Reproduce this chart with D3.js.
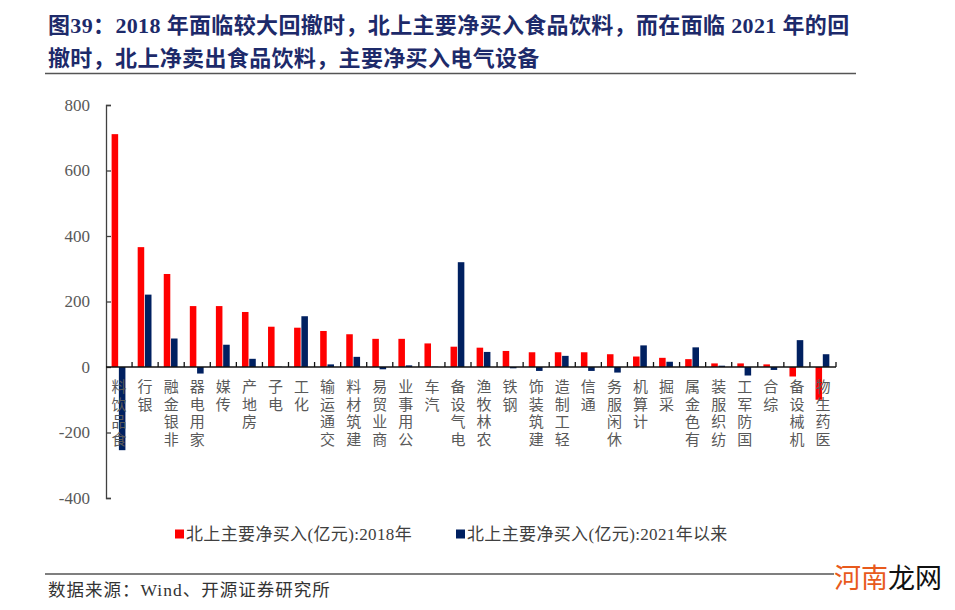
<!DOCTYPE html>
<html>
<head>
<meta charset="utf-8">
<script src="https://cdn.jsdelivr.net/npm/d3@7"></script>
<style>
  body { margin: 0; background: #fff; }
  svg { display: block; }
  .cat-label { writing-mode: vertical-rl; text-orientation: upright; }
</style>
</head>
<body>
<div id="chart"></div>
<script>
const categories = [
  "食品饮料", "银行", "非银金融", "家用电器", "传媒", "房地产", "电子", "化工",
  "交通运输", "建筑材料", "商业贸易", "公用事业", "汽车", "电气设备", "农林牧渔", "钢铁",
  "建筑装饰", "轻工制造", "通信", "休闲服务", "计算机", "采掘", "有色金属", "纺织服装",
  "国防军工", "综合", "机械设备", "医药生物"
];
const buy2018 = [
  711, 366, 284, 186, 186, 168, 123, 120,
  110, 100, 86, 86, 72, 62, 59, 49,
  45, 45, 45, 39, 32, 28, 24, 11,
  11, 8, -29, -100
];
const buy2021 = [
  -254, 221, 87, -20, 68, 25, 1, 155,
  8, 31, -7, 5, 1, 320, 46, -4,
  -12, 34, -12, -17, 66, 16, 60, 4,
  -26, -9, 82, 39
];
const yTicks = [-400, -200, 0, 200, 400, 600, 800];
const seriesNames = ["北上主要净买入(亿元):2018年", "北上主要净买入(亿元):2021年以来"];
const seriesColors = ["#ff0000", "#002060"];
const titleLines = [
  "图39：2018 年面临较大回撤时，北上主要净买入食品饮料，而在面临 2021 年的回",
  "撤时，北上净卖出食品饮料，主要净买入电气设备"
];
const sourceText = "数据来源：Wind、开源证券研究所";

class NorthboundChart {
  constructor(el) {
    this.el = el;
    this.setup();
    this.scaffold();
    this.render();
  }

  setup() {
    this.width = 955;
    this.height = 610;
    this.serif = "'Liberation Serif', 'Times New Roman', 'Noto Sans CJK SC', serif";
    this.cjk = "'Noto Sans CJK SC', sans-serif";

    this.x = d3.scaleBand().domain(categories).range([106, 836]).padding(0);
    this.sub = d3
      .scaleBand()
      .domain([0, 1])
      .range([this.x.bandwidth() * 0.215, this.x.bandwidth() * 0.745])
      .paddingInner(0.1);
    this.y = d3.scaleLinear().domain([-400, 800]).range([498, 105]);

    this.rows = categories.map((c, i) => ({
      category: c,
      values: [buy2018[i], buy2021[i]],
    }));
  }

  scaffold() {
    this.svg = d3
      .select(this.el)
      .append("svg")
      .attr("width", this.width)
      .attr("height", this.height);
  }

  render() {
    const svg = this.svg;

    // title
    svg
      .append("g")
      .selectAll("text")
      .data(titleLines)
      .join("text")
      .attr("x", 48)
      .attr("y", (d, i) => 33 + i * 33)
      .attr("font-family", this.serif)
      .attr("font-weight", "bold")
      .attr("font-size", 22)
      .attr("letter-spacing", 0.35)
      .attr("fill", "#1d2a6a")
      .text((d) => d);

    svg
      .append("line")
      .attr("x1", 45)
      .attr("x2", 856)
      .attr("y1", 73.5)
      .attr("y2", 73.5)
      .attr("stroke", "#555")
      .attr("stroke-width", 1.5);

    // bars
    svg
      .append("g")
      .selectAll("g")
      .data(this.rows)
      .join("g")
      .attr("transform", (d) => `translate(${this.x(d.category)},0)`)
      .selectAll("rect")
      .data((d) => d.values)
      .join("rect")
      .attr("x", (d, i) => this.sub(i))
      .attr("width", this.sub.bandwidth())
      .attr("y", (d) => this.y(Math.max(0, d)))
      .attr("height", (d) => Math.abs(this.y(d) - this.y(0)))
      .attr("fill", (d, i) => seriesColors[i]);

    // y axis
    const yAxis = svg
      .append("g")
      .attr("transform", "translate(106,0)")
      .call(d3.axisRight(this.y).tickValues(yTicks).tickSize(5).tickFormat(""));
    yAxis.select(".domain").attr("stroke", "#404040").attr("stroke-width", 1.3);
    yAxis.selectAll(".tick line").attr("stroke", "#404040").attr("stroke-width", 1.3);

    svg
      .append("g")
      .selectAll("text")
      .data(yTicks)
      .join("text")
      .attr("x", 90)
      .attr("y", (d) => this.y(d))
      .attr("dy", "0.35em")
      .attr("text-anchor", "end")
      .attr("font-family", this.serif)
      .attr("font-size", 17)
      .attr("fill", "#595959")
      .text((d) => d);

    // zero line with upward ticks at category boundaries
    const y0 = this.y(0);
    svg
      .append("line")
      .attr("x1", 106)
      .attr("x2", 836)
      .attr("y1", y0)
      .attr("y2", y0)
      .attr("stroke", "#111")
      .attr("stroke-width", 1.5);
    const bounds = categories.slice(1).map((c) => this.x(c)).concat([836]);
    svg
      .append("g")
      .selectAll("line")
      .data(bounds)
      .join("line")
      .attr("x1", (d) => d)
      .attr("x2", (d) => d)
      .attr("y1", y0)
      .attr("y2", y0 - 5)
      .attr("stroke", "#111")
      .attr("stroke-width", 1.3);

    // category labels: upright characters stacked, read bottom to top
    svg
      .append("g")
      .selectAll("text")
      .data(categories)
      .join("text")
      .attr("class", "cat-label")
      .attr("x", (d) => this.x(d) + this.x.bandwidth() / 2)
      .attr("y", 379)
      .attr("font-family", this.cjk)
      .attr("font-size", 15)
      .attr("letter-spacing", 2.6)
      .attr("fill", "#595959")
      .text((d) => Array.from(d).reverse().join(""));

    // legend
    const legendX = [175, 456];
    const legend = svg
      .append("g")
      .selectAll("g")
      .data(seriesNames)
      .join("g")
      .attr("transform", (d, i) => `translate(${legendX[i]},534)`);
    legend
      .append("rect")
      .attr("x", 0)
      .attr("y", -4.5)
      .attr("width", 9)
      .attr("height", 9)
      .attr("fill", (d, i) => seriesColors[i]);
    legend
      .append("text")
      .attr("x", 11)
      .attr("dy", "0.35em")
      .attr("font-family", this.serif)
      .attr("font-size", 17)
      .attr("letter-spacing", 0.35)
      .attr("fill", "#404040")
      .text((d) => d);

    // footer
    svg
      .append("line")
      .attr("x1", 45)
      .attr("x2", 834)
      .attr("y1", 574)
      .attr("y2", 574)
      .attr("stroke", "#555")
      .attr("stroke-width", 1.5);
    svg
      .append("text")
      .attr("x", 48)
      .attr("y", 590)
      .attr("dy", "0.35em")
      .attr("font-family", this.serif)
      .attr("font-size", 17.5)
      .attr("letter-spacing", 1)
      .attr("fill", "#333")
      .text(sourceText);

    const mark = svg
      .append("text")
      .attr("x", 834)
      .attr("y", 579)
      .attr("dy", "0.35em")
      .attr("font-family", this.cjk)
      .attr("font-size", 27);
    mark.append("tspan").attr("fill", "#e85a1c").text("河南");
    mark.append("tspan").attr("fill", "#111").text("龙网");
  }
}

new NorthboundChart(document.getElementById("chart"));
</script>
</body>
</html>
